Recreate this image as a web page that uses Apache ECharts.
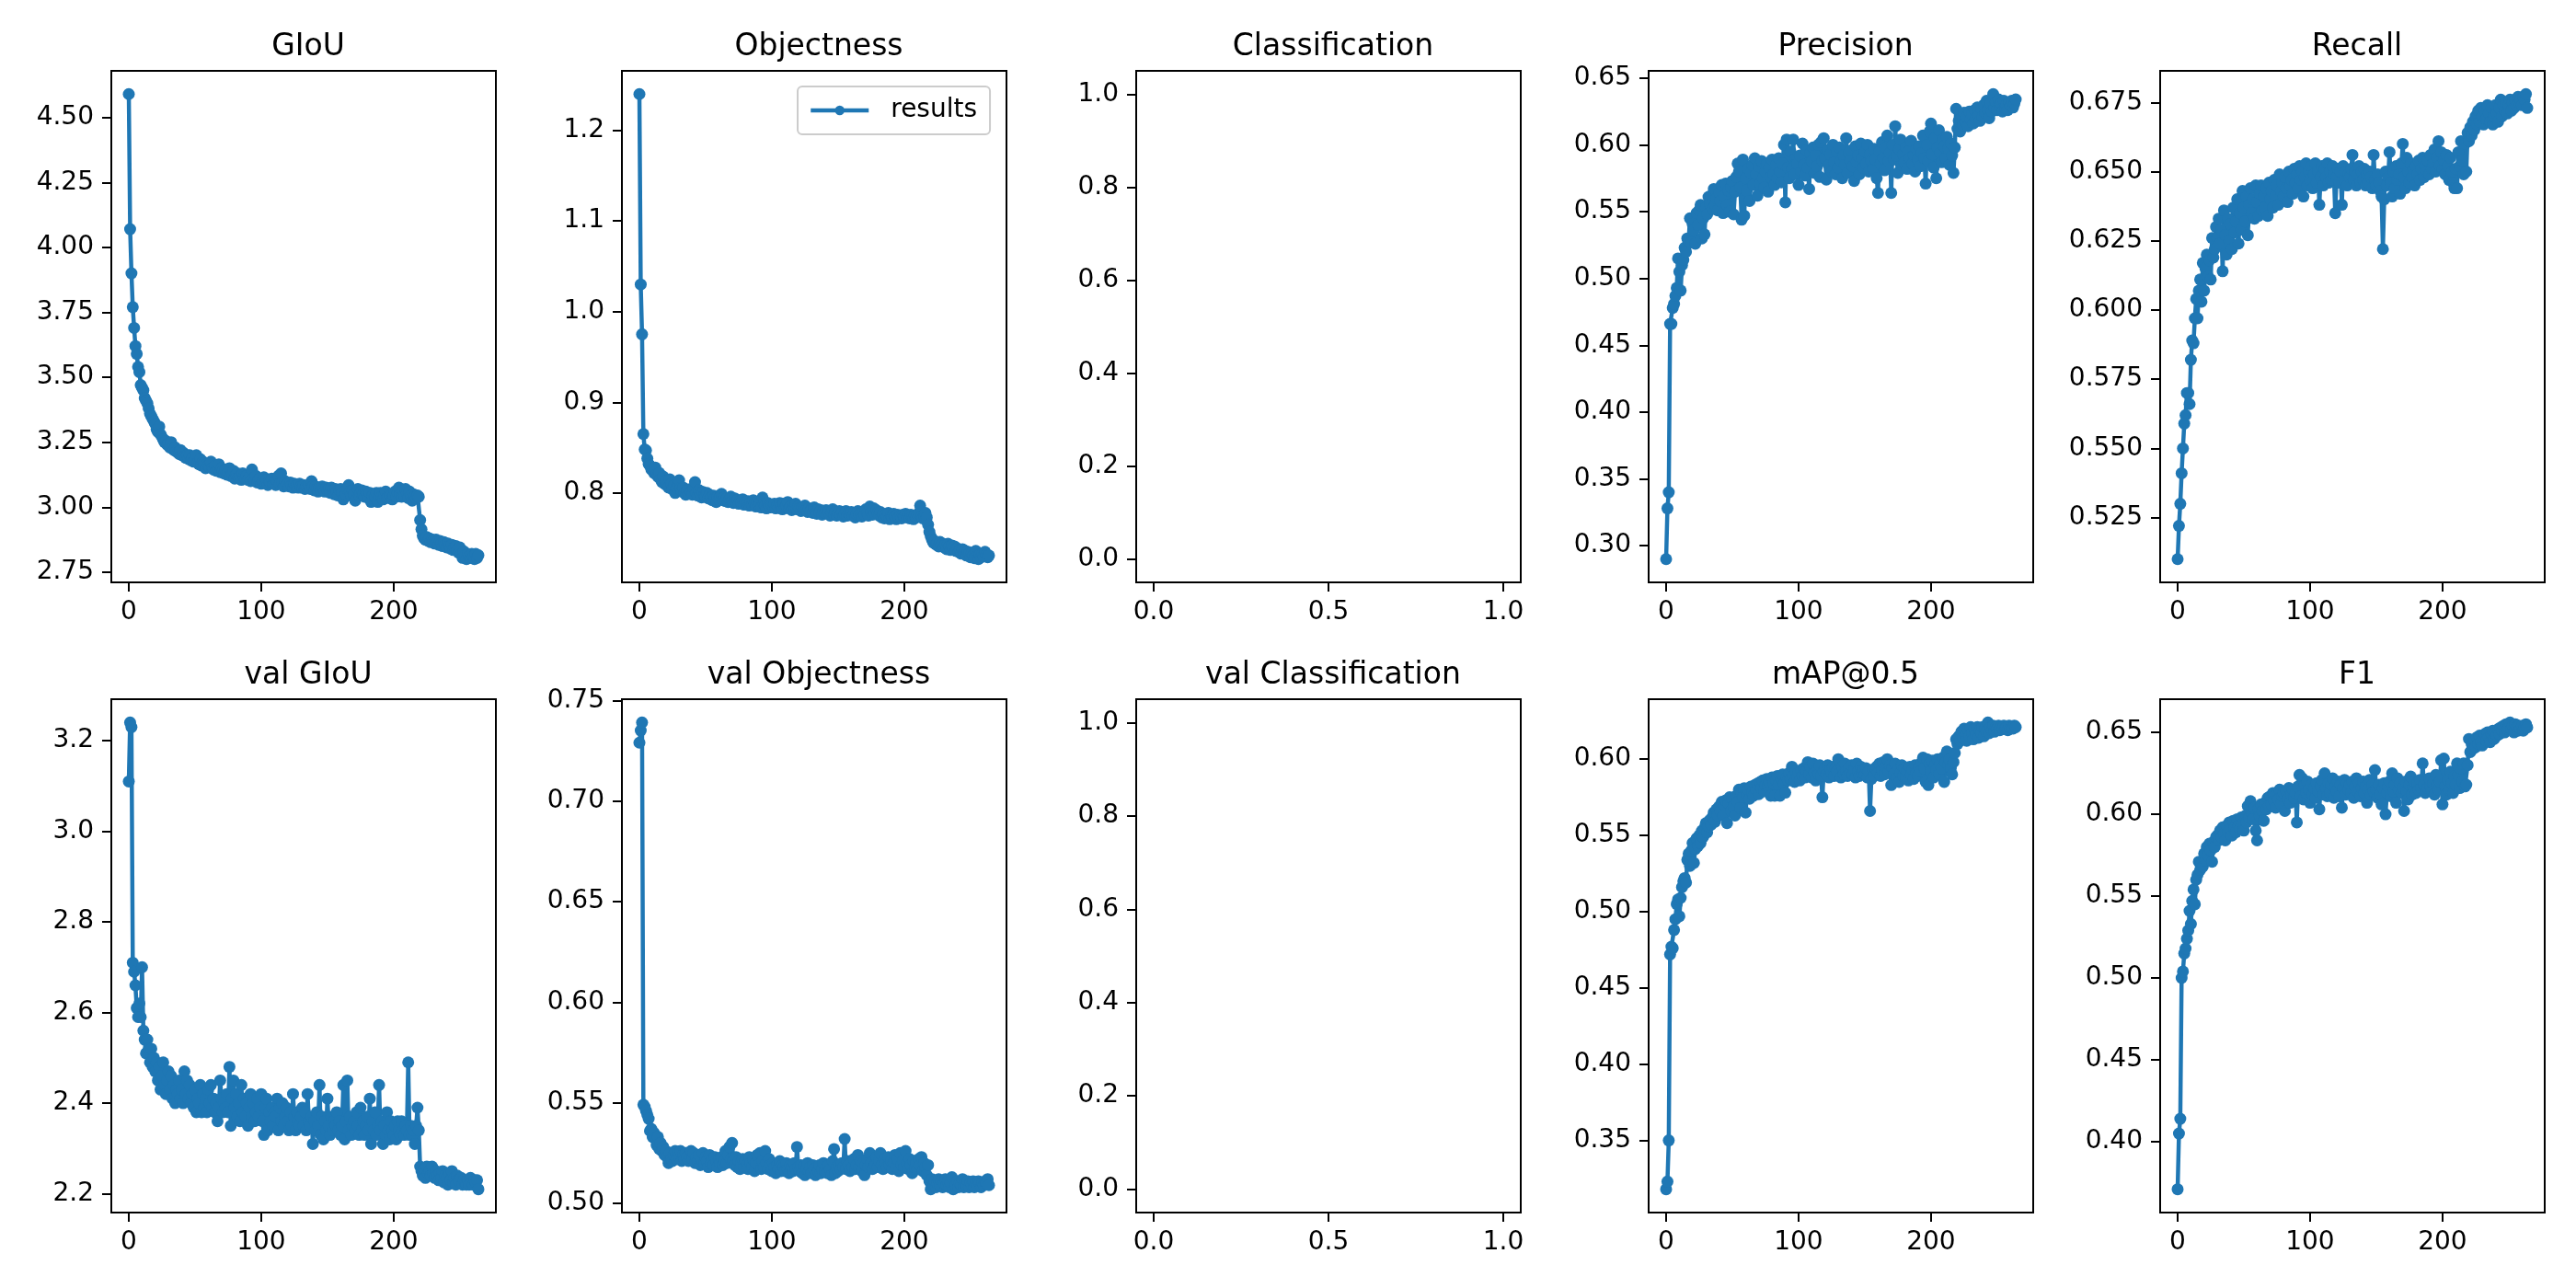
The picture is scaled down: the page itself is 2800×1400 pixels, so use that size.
<!DOCTYPE html>
<html>
<head>
<meta charset="utf-8">
<title>results</title>
<script src="https://cdn.jsdelivr.net/npm/echarts@6/dist/echarts.min.js"></script>
<style>
  html, body { margin: 0; padding: 0; background: #fff; }
  #results { width: 2800px; height: 1400px; }
</style>
</head>
<body>
<div id="results"></div>
<script>
// values, one per epoch (0..264)
const giou = [
  4.590, 4.070, 3.900, 3.770, 3.690, 3.620, 3.590, 3.540, 3.520, 3.470,
  3.460, 3.450, 3.420, 3.410, 3.400, 3.380, 3.360, 3.350, 3.340, 3.330,
  3.320, 3.300, 3.290, 3.310, 3.280, 3.270, 3.260, 3.250, 3.255, 3.240,
  3.245, 3.230, 3.250, 3.225, 3.220, 3.230, 3.215, 3.210, 3.205, 3.220,
  3.200, 3.210, 3.195, 3.190, 3.200, 3.185, 3.200, 3.180, 3.190, 3.175,
  3.180, 3.200, 3.170, 3.165, 3.185, 3.160, 3.175, 3.170, 3.150, 3.165,
  3.160, 3.155, 3.175, 3.150, 3.145, 3.160, 3.140, 3.150, 3.165, 3.135,
  3.150, 3.140, 3.130, 3.145, 3.125, 3.135, 3.150, 3.120, 3.130, 3.140,
  3.110, 3.125, 3.130, 3.115, 3.120, 3.105, 3.130, 3.115, 3.110, 3.120,
  3.105, 3.115, 3.100, 3.145, 3.110, 3.100, 3.120, 3.095, 3.105, 3.110,
  3.090, 3.100, 3.115, 3.095, 3.105, 3.085, 3.100, 3.095, 3.110, 3.090,
  3.095, 3.085, 3.100, 3.120, 3.090, 3.130, 3.095, 3.080, 3.100, 3.085,
  3.090, 3.080, 3.095, 3.085, 3.075, 3.090, 3.080, 3.085, 3.075, 3.090,
  3.080, 3.075, 3.085, 3.070, 3.080, 3.075, 3.085, 3.070, 3.100, 3.080,
  3.065, 3.080, 3.070, 3.060, 3.075, 3.065, 3.080, 3.070, 3.060, 3.075,
  3.065, 3.070, 3.055, 3.075, 3.065, 3.050, 3.070, 3.060, 3.045, 3.065,
  3.070, 3.055, 3.030, 3.060, 3.050, 3.070, 3.085, 3.060, 3.045, 3.065,
  3.050, 3.025, 3.060, 3.070, 3.045, 3.055, 3.065, 3.050, 3.040, 3.060,
  3.050, 3.035, 3.055, 3.020, 3.045, 3.050, 3.040, 3.055, 3.020, 3.045,
  3.055, 3.040, 3.030, 3.045, 3.060, 3.035, 3.040, 3.050, 3.045, 3.030,
  3.045, 3.060, 3.040, 3.055, 3.075, 3.050, 3.040, 3.065, 3.045, 3.070,
  3.055, 3.035, 3.060, 3.045, 3.025, 3.050, 3.040, 3.035, 3.045, 3.040,
  2.950, 2.915, 2.890, 2.880, 2.875, 2.885, 2.870, 2.880, 2.865, 2.875,
  2.870, 2.860, 2.875, 2.865, 2.855, 2.870, 2.860, 2.850, 2.865, 2.855,
  2.845, 2.860, 2.850, 2.840, 2.855, 2.835, 2.845, 2.850, 2.835, 2.825,
  2.845, 2.820, 2.805, 2.830, 2.815, 2.800, 2.820, 2.810, 2.805, 2.820,
  2.810, 2.800, 2.820, 2.805, 2.815
];

const objectness = [
  1.240, 1.030, 0.975, 0.865, 0.848, 0.847, 0.838, 0.832, 0.830, 0.826,
  0.825, 0.822, 0.828, 0.820, 0.818, 0.822, 0.815, 0.812, 0.818, 0.810,
  0.813, 0.808, 0.806, 0.815, 0.810, 0.804, 0.808, 0.800, 0.806, 0.810,
  0.814, 0.805, 0.802, 0.806, 0.800, 0.798, 0.803, 0.799, 0.804, 0.801,
  0.798, 0.805, 0.812, 0.800, 0.797, 0.803, 0.799, 0.795, 0.801, 0.797,
  0.796, 0.800, 0.794, 0.798, 0.795, 0.792, 0.797, 0.794, 0.790, 0.796,
  0.793, 0.796, 0.799, 0.792, 0.795, 0.791, 0.794, 0.790, 0.793, 0.796,
  0.791, 0.789, 0.794, 0.790, 0.792, 0.788, 0.791, 0.789, 0.793, 0.787,
  0.790, 0.788, 0.791, 0.786, 0.789, 0.787, 0.792, 0.788, 0.785, 0.790,
  0.787, 0.789, 0.784, 0.795, 0.788, 0.786, 0.783, 0.789, 0.786, 0.784,
  0.787, 0.785, 0.788, 0.783, 0.786, 0.784, 0.789, 0.785, 0.782, 0.788,
  0.784, 0.786, 0.790, 0.783, 0.785, 0.781, 0.786, 0.784, 0.788, 0.782,
  0.785, 0.783, 0.780, 0.784, 0.782, 0.786, 0.781, 0.779, 0.783, 0.780,
  0.782, 0.778, 0.784, 0.780, 0.777, 0.782, 0.779, 0.781, 0.776, 0.780,
  0.778, 0.781, 0.777, 0.780, 0.775, 0.779, 0.782, 0.776, 0.779, 0.775,
  0.778, 0.780, 0.776, 0.779, 0.774, 0.777, 0.780, 0.775, 0.778, 0.776,
  0.779, 0.775, 0.778, 0.773, 0.777, 0.780, 0.776, 0.778, 0.774, 0.779,
  0.776, 0.782, 0.778, 0.775, 0.785, 0.779, 0.776, 0.783, 0.777, 0.781,
  0.778, 0.775, 0.779, 0.773, 0.777, 0.772, 0.776, 0.774, 0.778, 0.771,
  0.775, 0.773, 0.777, 0.774, 0.771, 0.776, 0.773, 0.775, 0.772, 0.776,
  0.774, 0.777, 0.773, 0.775, 0.772, 0.776, 0.774, 0.771, 0.775, 0.773,
  0.776, 0.778, 0.786, 0.774, 0.772, 0.775, 0.778, 0.773, 0.765, 0.757,
  0.752, 0.748, 0.745, 0.747, 0.743, 0.745, 0.741, 0.746, 0.742, 0.744,
  0.740, 0.743, 0.738, 0.744, 0.741, 0.737, 0.742, 0.739, 0.741, 0.736,
  0.739, 0.735, 0.737, 0.733, 0.738, 0.734, 0.736, 0.731, 0.735, 0.733,
  0.729, 0.734, 0.731, 0.728, 0.736, 0.730, 0.727, 0.732, 0.729, 0.733,
  0.730, 0.735, 0.732, 0.729, 0.731
];

const precision = [
  0.290, 0.328, 0.340, 0.466, 0.466, 0.478, 0.481, 0.487, 0.493, 0.515,
  0.505, 0.491, 0.510, 0.514, 0.523, 0.520, 0.530, 0.528, 0.545, 0.527,
  0.541, 0.536, 0.526, 0.549, 0.540, 0.551, 0.555, 0.530, 0.545, 0.533,
  0.553, 0.548, 0.561, 0.556, 0.562, 0.552, 0.567, 0.555, 0.560, 0.551,
  0.564, 0.558, 0.570, 0.549, 0.562, 0.571, 0.555, 0.566, 0.550, 0.568,
  0.573, 0.548, 0.565, 0.576, 0.586, 0.580, 0.568, 0.544, 0.589, 0.547,
  0.575, 0.566, 0.582, 0.558, 0.579, 0.585, 0.570, 0.590, 0.578, 0.562,
  0.584, 0.571, 0.588, 0.575, 0.568, 0.580, 0.586, 0.565, 0.583, 0.576,
  0.589, 0.578, 0.570, 0.585, 0.575, 0.590, 0.580, 0.572, 0.586, 0.600,
  0.557, 0.604, 0.583, 0.575, 0.595, 0.582, 0.604, 0.578, 0.590, 0.586,
  0.570, 0.592, 0.580, 0.601, 0.585, 0.577, 0.596, 0.583, 0.567, 0.594,
  0.588, 0.598, 0.579, 0.592, 0.584, 0.600, 0.576, 0.602, 0.588, 0.605,
  0.590, 0.574, 0.596, 0.585, 0.593, 0.580, 0.600, 0.587, 0.578, 0.595,
  0.583, 0.598, 0.588, 0.575, 0.592, 0.585, 0.605, 0.579, 0.594, 0.588,
  0.596, 0.584, 0.573, 0.599, 0.587, 0.592, 0.578, 0.601, 0.590, 0.583,
  0.595, 0.586, 0.600, 0.580, 0.593, 0.588, 0.582, 0.597, 0.589, 0.575,
  0.564, 0.595, 0.586, 0.602, 0.590, 0.581, 0.598, 0.607, 0.588, 0.594,
  0.564, 0.600, 0.589, 0.614, 0.592, 0.579, 0.597, 0.604, 0.585, 0.593,
  0.587, 0.598, 0.582, 0.595, 0.590, 0.603, 0.586, 0.592, 0.580, 0.597,
  0.589, 0.599, 0.584, 0.594, 0.607, 0.590, 0.571, 0.600, 0.588, 0.610,
  0.616, 0.593, 0.583, 0.605, 0.575, 0.598, 0.611, 0.594, 0.587, 0.604,
  0.599, 0.590, 0.606, 0.597, 0.585, 0.601, 0.592, 0.579, 0.598, 0.627,
  0.612, 0.618, 0.610, 0.620, 0.615, 0.624, 0.617, 0.621, 0.614, 0.625,
  0.619, 0.623, 0.616, 0.626, 0.620, 0.628, 0.622, 0.618, 0.627, 0.621,
  0.630, 0.624, 0.633, 0.626, 0.620, 0.631, 0.625, 0.638, 0.628, 0.632,
  0.626, 0.634, 0.629, 0.631, 0.625, 0.633, 0.628, 0.630, 0.626, 0.632,
  0.629, 0.633, 0.628, 0.631, 0.634
];

const recall = [
  0.510, 0.522, 0.530, 0.541, 0.550, 0.559, 0.562, 0.570, 0.570, 0.566,
  0.582, 0.589, 0.588, 0.597, 0.604, 0.597, 0.607, 0.611, 0.603, 0.617,
  0.607, 0.615, 0.620, 0.612, 0.618, 0.611, 0.626, 0.619, 0.622, 0.630,
  0.626, 0.633, 0.624, 0.629, 0.614, 0.636, 0.627, 0.620, 0.633, 0.625,
  0.631, 0.622, 0.637, 0.628, 0.632, 0.640, 0.624, 0.635, 0.629, 0.643,
  0.637, 0.632, 0.641, 0.627, 0.638, 0.644, 0.635, 0.640, 0.633, 0.645,
  0.639, 0.634, 0.642, 0.645, 0.636, 0.641, 0.637, 0.644, 0.634, 0.646,
  0.640, 0.643, 0.637, 0.647, 0.641, 0.645, 0.638, 0.649, 0.643, 0.646,
  0.641, 0.648, 0.644, 0.639, 0.650, 0.645, 0.647, 0.642, 0.651, 0.646,
  0.649, 0.644, 0.652, 0.647, 0.650, 0.641, 0.648, 0.653, 0.645, 0.650,
  0.647, 0.652, 0.644, 0.649, 0.653, 0.646, 0.650, 0.638, 0.648, 0.652,
  0.645, 0.651, 0.648, 0.653, 0.646, 0.650, 0.647, 0.652, 0.649, 0.635,
  0.648, 0.651, 0.646, 0.650, 0.638, 0.652, 0.647, 0.650, 0.645, 0.649,
  0.648, 0.651, 0.656, 0.647, 0.650, 0.645, 0.649, 0.652, 0.646, 0.650,
  0.647, 0.651, 0.645, 0.649, 0.646, 0.650, 0.648, 0.644, 0.656, 0.647,
  0.645, 0.649, 0.646, 0.643, 0.641, 0.622, 0.640, 0.650, 0.645, 0.648,
  0.657, 0.646, 0.641, 0.650, 0.644, 0.652, 0.647, 0.649, 0.642, 0.653,
  0.660, 0.648, 0.644, 0.655, 0.650, 0.646, 0.653, 0.648, 0.651, 0.645,
  0.652, 0.649, 0.654, 0.647, 0.651, 0.655, 0.648, 0.652, 0.650, 0.654,
  0.649, 0.656, 0.651, 0.653, 0.658, 0.650, 0.655, 0.661, 0.652, 0.657,
  0.651, 0.654, 0.649, 0.656, 0.652, 0.647, 0.655, 0.650, 0.646, 0.644,
  0.651, 0.644, 0.657, 0.652, 0.661, 0.654, 0.649, 0.660, 0.650, 0.664,
  0.661, 0.666, 0.663, 0.668, 0.665, 0.670, 0.667, 0.672, 0.668, 0.673,
  0.670, 0.667, 0.672, 0.669, 0.674, 0.671, 0.668, 0.673, 0.667, 0.670,
  0.674, 0.671, 0.668, 0.673, 0.676, 0.670, 0.674, 0.672, 0.675, 0.671,
  0.674, 0.676, 0.672, 0.675, 0.673, 0.676, 0.674, 0.677, 0.675, 0.676,
  0.674, 0.677, 0.676, 0.678, 0.673
];

const valGiou = [
  3.110, 3.240, 3.230, 2.710, 2.690, 2.660, 2.610, 2.590, 2.620, 2.590,
  2.700, 2.560, 2.540, 2.510, 2.540, 2.520, 2.490, 2.520, 2.480, 2.500,
  2.470, 2.490, 2.450, 2.480, 2.430, 2.460, 2.490, 2.440, 2.420, 2.450,
  2.470, 2.430, 2.460, 2.410, 2.440, 2.400, 2.430, 2.420, 2.450, 2.410,
  2.430, 2.400, 2.470, 2.420, 2.450, 2.410, 2.440, 2.400, 2.420, 2.390,
  2.430, 2.380, 2.410, 2.400, 2.440, 2.380, 2.420, 2.390, 2.410, 2.380,
  2.430, 2.400, 2.440, 2.390, 2.410, 2.380, 2.400, 2.360, 2.390, 2.450,
  2.410, 2.380, 2.400, 2.390, 2.420, 2.380, 2.480, 2.350, 2.410, 2.450,
  2.390, 2.420, 2.370, 2.400, 2.360, 2.440, 2.380, 2.410, 2.370, 2.400,
  2.350, 2.390, 2.420, 2.370, 2.400, 2.360, 2.380, 2.410, 2.370, 2.390,
  2.420, 2.360, 2.330, 2.390, 2.410, 2.340, 2.380, 2.360, 2.390, 2.350,
  2.380, 2.370, 2.410, 2.340, 2.390, 2.360, 2.400, 2.350, 2.370, 2.390,
  2.360, 2.340, 2.380, 2.350, 2.420, 2.370, 2.340, 2.380, 2.360, 2.350,
  2.370, 2.390, 2.350, 2.380, 2.340, 2.420, 2.360, 2.350, 2.370, 2.310,
  2.360, 2.340, 2.380, 2.350, 2.440, 2.330, 2.370, 2.320, 2.360, 2.340,
  2.410, 2.350, 2.330, 2.370, 2.340, 2.360, 2.350, 2.380, 2.340, 2.360,
  2.330, 2.350, 2.440, 2.320, 2.360, 2.450, 2.340, 2.370, 2.330, 2.350,
  2.360, 2.340, 2.380, 2.350, 2.330, 2.390, 2.340, 2.360, 2.330, 2.350,
  2.370, 2.340, 2.410, 2.310, 2.360, 2.340, 2.380, 2.330, 2.350, 2.440,
  2.340, 2.360, 2.310, 2.350, 2.330, 2.380, 2.340, 2.320, 2.360, 2.340,
  2.330, 2.350, 2.320, 2.360, 2.340, 2.330, 2.360, 2.340, 2.330, 2.350,
  2.340, 2.490, 2.330, 2.350, 2.330, 2.340, 2.310, 2.350, 2.390, 2.340,
  2.260, 2.250, 2.240, 2.255, 2.235, 2.260, 2.245, 2.250, 2.240, 2.260,
  2.245, 2.235, 2.250, 2.240, 2.230, 2.245, 2.235, 2.250, 2.225, 2.240,
  2.235, 2.220, 2.245, 2.230, 2.250, 2.225, 2.235, 2.220, 2.240, 2.230,
  2.225, 2.235, 2.220, 2.230, 2.225, 2.220, 2.230, 2.220, 2.235, 2.225,
  2.220, 2.230, 2.225, 2.230, 2.210
];

const valObjectness = [
  0.729, 0.735, 0.739, 0.549, 0.548, 0.546, 0.544, 0.542, 0.536, 0.537,
  0.533, 0.535, 0.532, 0.529, 0.533, 0.527, 0.530, 0.526, 0.528, 0.524,
  0.526, 0.523, 0.520, 0.525, 0.522, 0.521, 0.524, 0.526, 0.522, 0.525,
  0.523, 0.526, 0.521, 0.524, 0.522, 0.525, 0.523, 0.521, 0.524, 0.526,
  0.522, 0.525, 0.520, 0.523, 0.521, 0.524, 0.519, 0.522, 0.525, 0.520,
  0.523, 0.521, 0.518, 0.524, 0.520, 0.522, 0.519, 0.523, 0.521, 0.518,
  0.522, 0.520, 0.523, 0.519, 0.521, 0.526, 0.520, 0.524, 0.528, 0.522,
  0.530, 0.521, 0.519, 0.523, 0.518, 0.521, 0.517, 0.520, 0.522, 0.518,
  0.521, 0.519, 0.517, 0.523, 0.520, 0.518, 0.522, 0.516, 0.520, 0.524,
  0.519, 0.525, 0.517, 0.521, 0.518, 0.526, 0.520, 0.517, 0.522, 0.519,
  0.516, 0.520, 0.518, 0.515, 0.519, 0.517, 0.521, 0.516, 0.519, 0.518,
  0.516, 0.520, 0.517, 0.515, 0.519, 0.518, 0.516, 0.520, 0.517, 0.528,
  0.518, 0.516, 0.519, 0.515, 0.518, 0.514, 0.517, 0.520, 0.516, 0.518,
  0.515, 0.519, 0.517, 0.514, 0.518, 0.516, 0.519, 0.515, 0.517, 0.520,
  0.516, 0.518, 0.515, 0.519, 0.517, 0.514, 0.521, 0.527, 0.515, 0.518,
  0.516, 0.519, 0.517, 0.520, 0.518, 0.532, 0.517, 0.521, 0.519, 0.516,
  0.520, 0.518, 0.522, 0.517, 0.519, 0.524, 0.518, 0.521, 0.516, 0.520,
  0.514, 0.519, 0.522, 0.518, 0.525, 0.520, 0.517, 0.521, 0.519, 0.523,
  0.518, 0.521, 0.525, 0.519, 0.517, 0.522, 0.520, 0.518, 0.523, 0.519,
  0.521, 0.517, 0.520, 0.524, 0.518, 0.522, 0.516, 0.525, 0.519, 0.521,
  0.518, 0.526, 0.520, 0.517, 0.522, 0.519, 0.515, 0.521, 0.518, 0.520,
  0.517, 0.522, 0.519, 0.523, 0.516, 0.520, 0.518, 0.514, 0.519, 0.511,
  0.507, 0.512, 0.509, 0.511, 0.508, 0.510, 0.512, 0.509, 0.511, 0.508,
  0.510, 0.512, 0.509, 0.511, 0.508, 0.510, 0.513, 0.507, 0.510, 0.509,
  0.511, 0.508, 0.510, 0.509, 0.512, 0.508, 0.510, 0.509, 0.511, 0.508,
  0.510, 0.509, 0.511, 0.508, 0.510, 0.509, 0.511, 0.510, 0.508, 0.510,
  0.509, 0.511, 0.510, 0.512, 0.509
];

const mAP = [
  0.318, 0.323, 0.350, 0.472, 0.477, 0.476, 0.488, 0.495, 0.505, 0.508,
  0.497, 0.509, 0.516, 0.520, 0.522, 0.519, 0.534, 0.538, 0.530, 0.540,
  0.545, 0.532, 0.541, 0.548, 0.543, 0.550, 0.545, 0.553, 0.549, 0.555,
  0.558, 0.552, 0.556, 0.560, 0.557, 0.562, 0.565, 0.559, 0.567, 0.563,
  0.569, 0.566, 0.572, 0.563, 0.570, 0.573, 0.558, 0.571, 0.575, 0.566,
  0.574, 0.569, 0.563, 0.576, 0.572, 0.580, 0.568, 0.578, 0.575, 0.581,
  0.565, 0.577, 0.580, 0.574, 0.582, 0.578, 0.576, 0.583, 0.580, 0.584,
  0.577, 0.585, 0.581, 0.586, 0.579, 0.583, 0.587, 0.582, 0.585, 0.576,
  0.588, 0.584, 0.576, 0.586, 0.589, 0.583, 0.576, 0.587, 0.590, 0.584,
  0.578, 0.588, 0.586, 0.591, 0.587, 0.595, 0.589, 0.585, 0.592, 0.588,
  0.591, 0.586, 0.593, 0.589, 0.594, 0.588, 0.592, 0.598, 0.590, 0.595,
  0.588, 0.597, 0.591, 0.586, 0.593, 0.590, 0.596, 0.589, 0.575, 0.592,
  0.594, 0.590, 0.596, 0.588, 0.593, 0.591, 0.595, 0.589, 0.594, 0.592,
  0.600, 0.591, 0.588, 0.595, 0.590, 0.597, 0.592, 0.589, 0.594, 0.591,
  0.596, 0.590, 0.593, 0.588, 0.597, 0.592, 0.589, 0.595, 0.591, 0.593,
  0.590, 0.594, 0.588, 0.592, 0.566, 0.587, 0.593, 0.589, 0.594, 0.595,
  0.591, 0.597, 0.589, 0.593, 0.598, 0.590, 0.595, 0.600, 0.592, 0.596,
  0.583, 0.594, 0.590, 0.597, 0.588, 0.593, 0.585, 0.591, 0.596, 0.589,
  0.594, 0.588, 0.592, 0.586, 0.595, 0.590, 0.593, 0.587, 0.596, 0.591,
  0.589, 0.595, 0.592, 0.598, 0.601, 0.594, 0.585, 0.600, 0.583, 0.597,
  0.592, 0.599, 0.588, 0.596, 0.593, 0.600, 0.590, 0.597, 0.594, 0.601,
  0.585, 0.598, 0.605, 0.596, 0.600, 0.594, 0.590, 0.598, 0.604, 0.613,
  0.610, 0.615, 0.612, 0.618, 0.614, 0.620, 0.616, 0.612, 0.619, 0.615,
  0.621, 0.617, 0.613, 0.620, 0.616, 0.621, 0.614, 0.619, 0.617, 0.621,
  0.615, 0.620, 0.618, 0.624, 0.617, 0.621, 0.619, 0.622, 0.618, 0.621,
  0.620, 0.622, 0.619, 0.621, 0.620, 0.622, 0.620, 0.621, 0.619, 0.622,
  0.620, 0.621, 0.620, 0.622, 0.621
];

const f1 = [
  0.371, 0.405, 0.414, 0.500, 0.504, 0.515, 0.518, 0.524, 0.529, 0.541,
  0.533, 0.547, 0.554, 0.545, 0.560, 0.563, 0.571, 0.566, 0.570, 0.568,
  0.576, 0.572, 0.580, 0.575, 0.582, 0.578, 0.571, 0.583, 0.580, 0.586,
  0.587, 0.584, 0.590, 0.586, 0.592, 0.588, 0.584, 0.593, 0.589, 0.595,
  0.591, 0.587, 0.596, 0.592, 0.589, 0.597, 0.593, 0.591, 0.598, 0.594,
  0.590, 0.599, 0.595, 0.605, 0.598, 0.608, 0.601, 0.597, 0.604, 0.590,
  0.584, 0.603, 0.599, 0.606, 0.602, 0.596, 0.607, 0.603, 0.610, 0.605,
  0.611, 0.606, 0.613, 0.608, 0.604, 0.612, 0.609, 0.615, 0.606, 0.611,
  0.613, 0.602, 0.614, 0.609, 0.616, 0.607, 0.612, 0.615, 0.610, 0.613,
  0.595, 0.617, 0.624, 0.611, 0.622, 0.609, 0.618, 0.613, 0.620, 0.615,
  0.607, 0.618, 0.612, 0.616, 0.610, 0.619, 0.614, 0.603, 0.617, 0.621,
  0.612, 0.625, 0.616, 0.611, 0.619, 0.613, 0.618, 0.622, 0.610, 0.617,
  0.614, 0.620, 0.611, 0.618, 0.604, 0.616, 0.621, 0.612, 0.619, 0.615,
  0.618, 0.613, 0.620, 0.610, 0.617, 0.622, 0.614, 0.619, 0.611, 0.616,
  0.620, 0.613, 0.617, 0.607, 0.615, 0.621, 0.612, 0.618, 0.614, 0.627,
  0.615, 0.610, 0.618, 0.612, 0.606, 0.616, 0.619, 0.600, 0.613, 0.617,
  0.620, 0.611, 0.625, 0.614, 0.618, 0.607, 0.622, 0.615, 0.619, 0.613,
  0.616, 0.602, 0.620, 0.614, 0.609, 0.618, 0.623, 0.612, 0.617, 0.620,
  0.613, 0.619, 0.615, 0.621, 0.616, 0.631, 0.618, 0.613, 0.620, 0.616,
  0.622, 0.617, 0.614, 0.619, 0.612, 0.624, 0.618, 0.615, 0.620, 0.633,
  0.606, 0.634, 0.617, 0.612, 0.621, 0.615, 0.626, 0.619, 0.613, 0.623,
  0.618, 0.631, 0.624, 0.616, 0.628, 0.620, 0.631, 0.617, 0.618, 0.630,
  0.646, 0.638, 0.643, 0.640, 0.645, 0.641, 0.647, 0.643, 0.648, 0.644,
  0.642, 0.646, 0.649, 0.645, 0.650, 0.647, 0.644, 0.649, 0.651, 0.646,
  0.650, 0.648, 0.652, 0.649, 0.653, 0.651, 0.654, 0.650, 0.655, 0.652,
  0.653, 0.656, 0.652, 0.654, 0.650, 0.655, 0.653, 0.651, 0.654, 0.652,
  0.654, 0.651, 0.653, 0.655, 0.653
];

// tick labels
const epochTicks = [0, 100, 200];
const unitTicks = [0.0, 0.5, 1.0];
const giouTicks = [2.75, 3.00, 3.25, 3.50, 3.75, 4.00, 4.25, 4.50];
const objTicks = [0.7, 0.8, 0.9, 1.0, 1.1, 1.2];
const clsTicks = [0.0, 0.2, 0.4, 0.6, 0.8, 1.0];
const precisionTicks = [0.30, 0.35, 0.40, 0.45, 0.50, 0.55, 0.60, 0.65];
const recallTicks = [0.525, 0.550, 0.575, 0.600, 0.625, 0.650, 0.675];
const valGiouTicks = [2.2, 2.4, 2.6, 2.8, 3.0, 3.2];
const valObjTicks = [0.50, 0.55, 0.60, 0.65, 0.70, 0.75];
const mapTicks = [0.35, 0.40, 0.45, 0.50, 0.55, 0.60];
const f1Ticks = [0.40, 0.45, 0.50, 0.55, 0.60, 0.65];

const panels = [
  { title: 'GIoU', data: giou, ticks: giouTicks, dec: 2 },
  { title: 'Objectness', data: objectness, ticks: objTicks, dec: 1 },
  { title: 'Classification', data: null, ticks: clsTicks, dec: 1 },
  { title: 'Precision', data: precision, ticks: precisionTicks, dec: 2 },
  { title: 'Recall', data: recall, ticks: recallTicks, dec: 3 },
  { title: 'val GIoU', data: valGiou, ticks: valGiouTicks, dec: 1 },
  { title: 'val Objectness', data: valObjectness, ticks: valObjTicks, dec: 2 },
  { title: 'val Classification', data: null, ticks: clsTicks, dec: 1 },
  { title: 'mAP@0.5', data: mAP, ticks: mapTicks, dec: 2 },
  { title: 'F1', data: f1, ticks: f1Ticks, dec: 2 }
];

const colLeft = [121, 676, 1235, 1792, 2348];
const colWidth = 418;
const rowTop = [77, 760];
const rowHeight = [556, 558];
const blue = '#1f77b4';
const font = 'DejaVu Sans';

// matplotlib style 5% margins
function extent(arr) {
  let lo = Math.min(...arr), hi = Math.max(...arr);
  let m = (hi - lo) * 0.05;
  return [lo - m, hi + m];
}

function axisCommon(ticks, dec) {
  return {
    axisLine: { show: false, onZero: false },
    splitLine: { show: false },
    axisTick: {
      show: true, inside: false, length: 10,
      lineStyle: { color: '#000', width: 2 },
      customValues: ticks
    },
    axisLabel: {
      show: true, margin: 19, color: '#000',
      fontFamily: font, fontSize: 28,
      customValues: ticks,
      formatter: (v) => Number(v).toFixed(dec)
    }
  };
}

let grids = [], xAxes = [], yAxes = [], titles = [], series = [];

panels.forEach((p, i) => {
  let row = Math.floor(i / 5), col = i % 5;
  grids.push({
    left: colLeft[col], top: rowTop[row],
    width: colWidth, height: rowHeight[row],
    show: true, borderColor: '#000', borderWidth: 2,
    backgroundColor: '#fff'
  });
  titles.push({
    text: p.title,
    left: colLeft[col] + colWidth / 2,
    top: rowTop[row] - 47,
    textAlign: 'center',
    textStyle: { fontFamily: font, fontSize: 33, fontWeight: 'normal', color: '#000' }
  });

  let xr = p.data ? [-0.05 * (p.data.length - 1), 1.05 * (p.data.length - 1)] : [-0.05, 1.05];
  let yr = p.data ? extent(p.data) : [-0.05, 1.05];

  xAxes.push(Object.assign({
    type: 'value', gridIndex: i, position: 'bottom', min: xr[0], max: xr[1]
  }, axisCommon(p.data ? epochTicks : unitTicks, p.data ? 0 : 1)));
  yAxes.push(Object.assign({
    type: 'value', gridIndex: i, position: 'left', min: yr[0], max: yr[1]
  }, axisCommon(p.ticks, p.dec)));

  if (p.data) {
    series.push({
      name: 'results',
      type: 'line',
      xAxisIndex: i,
      yAxisIndex: i,
      data: p.data.map((v, k) => [k, v]),
      symbol: 'circle',
      symbolSize: 13,
      showSymbol: true,
      showAllSymbol: true,
      itemStyle: { color: blue },
      lineStyle: { color: blue, width: 4.5 },
      emphasis: { disabled: true },
      silent: true
    });
  }
});

let chartDom = document.getElementById('results');
let myChart = echarts.init(chartDom, null, { renderer: 'canvas' });

const option = {
  animation: false,
  backgroundColor: '#fff',
  title: titles,
  grid: grids,
  xAxis: xAxes,
  yAxis: yAxes,
  legend: {
    data: ['results'],
    left: 867,
    top: 94,
    padding: [12, 14, 12, 12],
    backgroundColor: '#fff',
    borderColor: '#cccccc',
    borderWidth: 2,
    borderRadius: 5,
    itemWidth: 63,
    itemHeight: 13,
    selectedMode: false,
    lineStyle: { width: 4.5, color: blue },
    itemStyle: { color: blue },
    textStyle: {
      fontFamily: font, fontSize: 28, color: '#000',
      lineHeight: 28, padding: [0, 0, 0, 19]
    }
  },
  series: series
};

option && myChart.setOption(option);
</script>
</body>
</html>
